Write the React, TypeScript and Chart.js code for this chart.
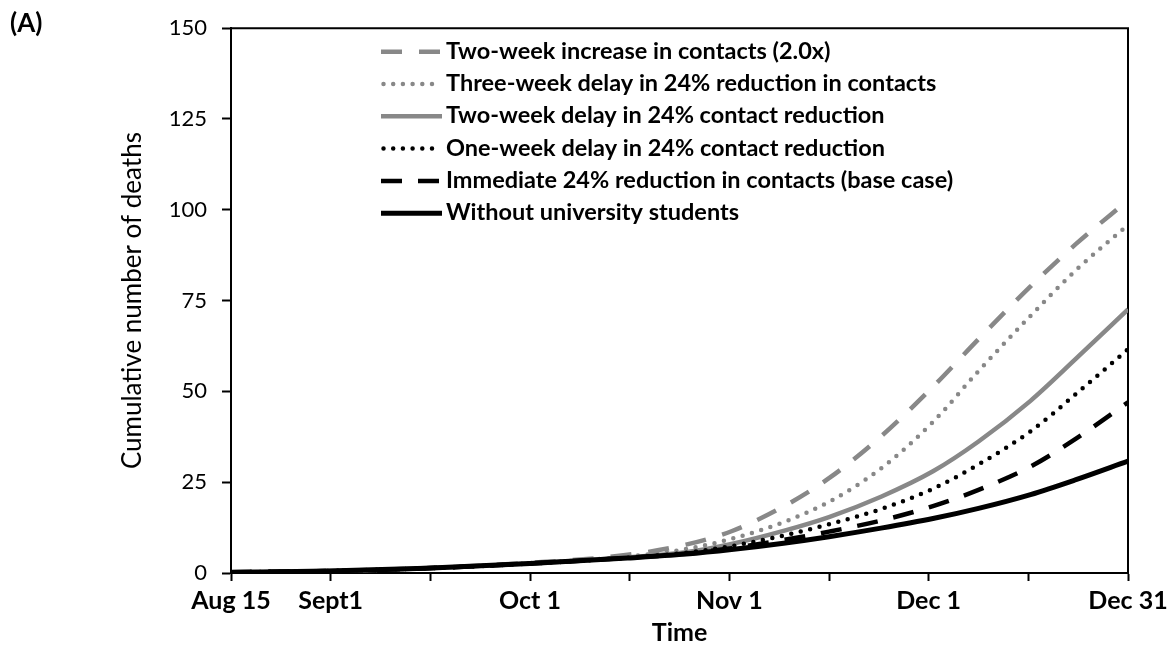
import React, { useEffect, useRef } from "react";
import { Chart, registerables } from "chart.js";

Chart.register(...registerables);

// ---- data (x = days since Aug 15) ----
const DAYS = [0, 15, 30, 46, 61, 70, 77, 85, 92, 100, 108, 115, 123, 130, 138];

const TWO_WEEK_INCREASE = [0.2, 0.55, 1.35, 2.8, 5.0, 7.8, 11.5, 18.3, 26.1, 37.6, 51.3, 64.4, 78.9, 90.6, 102.6];
const THREE_WEEK_DELAY = [0.2, 0.55, 1.3, 2.7, 4.5, 6.6, 9.4, 14.0, 19.6, 28.8, 41.6, 55.6, 70.8, 83.4, 95.8];
const TWO_WEEK_DELAY = [0.2, 0.55, 1.3, 2.65, 4.3, 5.7, 8.0, 11.6, 15.4, 21.0, 28.0, 36.2, 47.4, 59.0, 72.6];
const ONE_WEEK_DELAY = [0.2, 0.55, 1.3, 2.6, 4.2, 5.55, 7.4, 10.3, 13.4, 17.6, 23.2, 29.9, 39.0, 49.3, 61.6];
const IMMEDIATE = [0.2, 0.55, 1.3, 2.6, 4.15, 5.3, 6.85, 9.1, 11.4, 14.45, 18.4, 22.9, 29.3, 37.0, 47.0];
const WITHOUT_STUDENTS = [0.2, 0.55, 1.3, 2.6, 4.1, 5.2, 6.45, 8.2, 10.0, 12.35, 15.0, 17.8, 21.6, 25.7, 30.8];

const SERIES_LABELS = [
  "Two-week increase in contacts (2.0x)",
  "Three-week delay in 24% reduction in contacts",
  "Two-week delay in 24% contact reduction",
  "One-week delay in 24% contact reduction",
  "Immediate 24% reduction in contacts (base case)",
  "Without university students",
];

const X_MAX_DAY = 138;
const X_TICK_LABELS = ["Aug 15", "Sept1", "", "Oct 1", "", "Nov 1", "", "Dec 1", "", "Dec 31"];
const Y_MAX = 150;
const Y_STEP = 25;

// ---- styles ----
const GRAY = "#888888";
const BLACK = "#000000";
const FONT = "Lato";

const STYLES = [
  { color: GRAY, dash: [21, 17], cap: "butt", width: 4.5, order: 5 },
  { color: GRAY, dash: [0, 9.7], cap: "round", width: 4.5, order: 4 },
  { color: GRAY, dash: [], cap: "butt", width: 4.5, order: 3 },
  { color: BLACK, dash: [0, 9.7], cap: "round", width: 4.5, order: 2 },
  { color: BLACK, dash: [21, 16], cap: "butt", width: 4.5, order: 1 },
  { color: BLACK, dash: [], cap: "butt", width: 5, order: 0 },
];

const SERIES_VALUES = [
  TWO_WEEK_INCREASE,
  THREE_WEEK_DELAY,
  TWO_WEEK_DELAY,
  ONE_WEEK_DELAY,
  IMMEDIATE,
  WITHOUT_STUDENTS,
];

// ---- layout ----
const W = 1173;
const H = 648;
const AREA_LEFT = 231;
const AREA_TOP = 27;
const AREA_RIGHT = 1128;
const AREA_BOTTOM = 573;

const LEGEND_X0 = 381;
const LEGEND_X1 = 442;
const LEGEND_TEXT_X = 446;
const LEGEND_Y0 = 51.7;
const LEGEND_DY = 32.3;

const framePlugin = {
  id: "frame",
  beforeDatasetsDraw(chart: any) {
    const { ctx, chartArea } = chart;
    ctx.save();
    ctx.strokeStyle = "#000";
    ctx.lineWidth = 2;
    ctx.beginPath();
    ctx.moveTo(chartArea.left, chartArea.top);
    ctx.lineTo(chartArea.right, chartArea.top);
    ctx.lineTo(chartArea.right, chartArea.bottom);
    ctx.stroke();
    ctx.restore();
  },
};

const insetLegendPlugin = {
  id: "insetLegend",
  afterDatasetsDraw(chart: any) {
    const ctx = chart.ctx;
    ctx.save();
    chart.data.datasets.forEach((ds: any, i: number) => {
      const y = LEGEND_Y0 + i * LEGEND_DY;
      ctx.beginPath();
      ctx.setLineDash(ds.borderDash || []);
      ctx.lineCap = ds.borderCapStyle || "butt";
      ctx.lineWidth = ds.borderWidth;
      ctx.strokeStyle = ds.borderColor;
      const round = ds.borderCapStyle === "round";
      ctx.moveTo(round ? LEGEND_X0 + 2.5 : LEGEND_X0, y);
      ctx.lineTo(round ? LEGEND_X1 - 1 : LEGEND_X1, y);
      ctx.stroke();
      ctx.setLineDash([]);
      ctx.fillStyle = "#000";
      ctx.font = `bold 23.5px ${FONT}`;
      ctx.textBaseline = "alphabetic";
      ctx.textAlign = "left";
      ctx.fillText(ds.label, LEGEND_TEXT_X, y + 7);
    });
    ctx.restore();
  },
};

export default function App() {
  const canvasRef = useRef<HTMLCanvasElement | null>(null);

  useEffect(() => {
    if (!canvasRef.current) return;
    const datasets = SERIES_VALUES.map((vals, i) => ({
      label: SERIES_LABELS[i],
      data: DAYS.map((d, j) => ({ x: d, y: vals[j] })),
      borderColor: STYLES[i].color,
      backgroundColor: STYLES[i].color,
      borderWidth: STYLES[i].width,
      borderDash: STYLES[i].dash,
      borderCapStyle: STYLES[i].cap,
      borderJoinStyle: "round",
      pointRadius: 0,
      fill: false,
      cubicInterpolationMode: "monotone",
      order: STYLES[i].order,
    }));

    const chart = new Chart(canvasRef.current, {
      type: "line",
      data: { datasets } as any,
      plugins: [framePlugin, insetLegendPlugin],
      options: {
        animation: false,
        responsive: false,
        maintainAspectRatio: false,
        layout: {
          padding: { left: 0, top: AREA_TOP, right: W - AREA_RIGHT, bottom: 0 },
        },
        plugins: {
          legend: { display: false },
          tooltip: { enabled: false },
        },
        scales: {
          x: {
            type: "linear",
            min: 0,
            max: X_MAX_DAY,
            afterBuildTicks: (scale: any) => {
              scale.ticks = X_TICK_LABELS.map((_, i) => ({
                value: (i * X_MAX_DAY) / (X_TICK_LABELS.length - 1),
              }));
            },
            afterFit: (scale: any) => {
              scale.height = H - AREA_BOTTOM;
            },
            ticks: {
              autoSkip: false,
              maxRotation: 0,
              minRotation: 0,
              padding: 5,
              color: "#000",
              font: { family: FONT, weight: "bold", size: 25 },
              callback: (_v: any, i: number) => X_TICK_LABELS[i],
            },
            grid: {
              drawOnChartArea: false,
              drawTicks: true,
              tickLength: 8,
              tickColor: "#000",
              tickWidth: 2,
            },
            border: { display: true, color: "#000", width: 2 },
            title: {
              display: true,
              text: "Time",
              color: "#000",
              font: { family: FONT, weight: "bold", size: 25 },
              padding: { top: 0, bottom: 0 },
            },
          },
          y: {
            type: "linear",
            min: 0,
            max: Y_MAX,
            afterFit: (scale: any) => {
              scale.width = AREA_LEFT;
            },
            ticks: {
              stepSize: Y_STEP,
              padding: 15,
              color: "#000",
              font: { family: FONT, size: 22 },
            },
            grid: {
              drawOnChartArea: false,
              drawTicks: true,
              tickLength: 9,
              tickColor: "#000",
              tickWidth: 2,
            },
            border: { display: true, color: "#000", width: 2 },
            title: {
              display: true,
              text: "Cumulative number of deaths",
              color: "#000",
              font: { family: FONT, size: 26 },
              padding: { top: 117, bottom: 0 },
            },
          },
        },
      } as any,
    });

    let alive = true;
    if ((document as any).fonts && (document as any).fonts.ready) {
      (document as any).fonts.ready.then(() => {
        if (alive) chart.update();
      });
    }

    return () => {
      alive = false;
      chart.destroy();
    };
  }, []);

  return (
    <div style={{ position: "absolute", left: 0, top: 0, width: W, height: H, background: "#fff" }}>
      <canvas ref={canvasRef} width={W} height={H} style={{ display: "block", width: W, height: H }} />
      <div
        style={{
          position: "absolute",
          left: 10,
          top: 7,
          fontFamily: FONT,
          fontWeight: "bold",
          fontSize: 26,
          lineHeight: "30px",
          color: "#000",
        }}
      >
        (A)
      </div>
    </div>
  );
}
